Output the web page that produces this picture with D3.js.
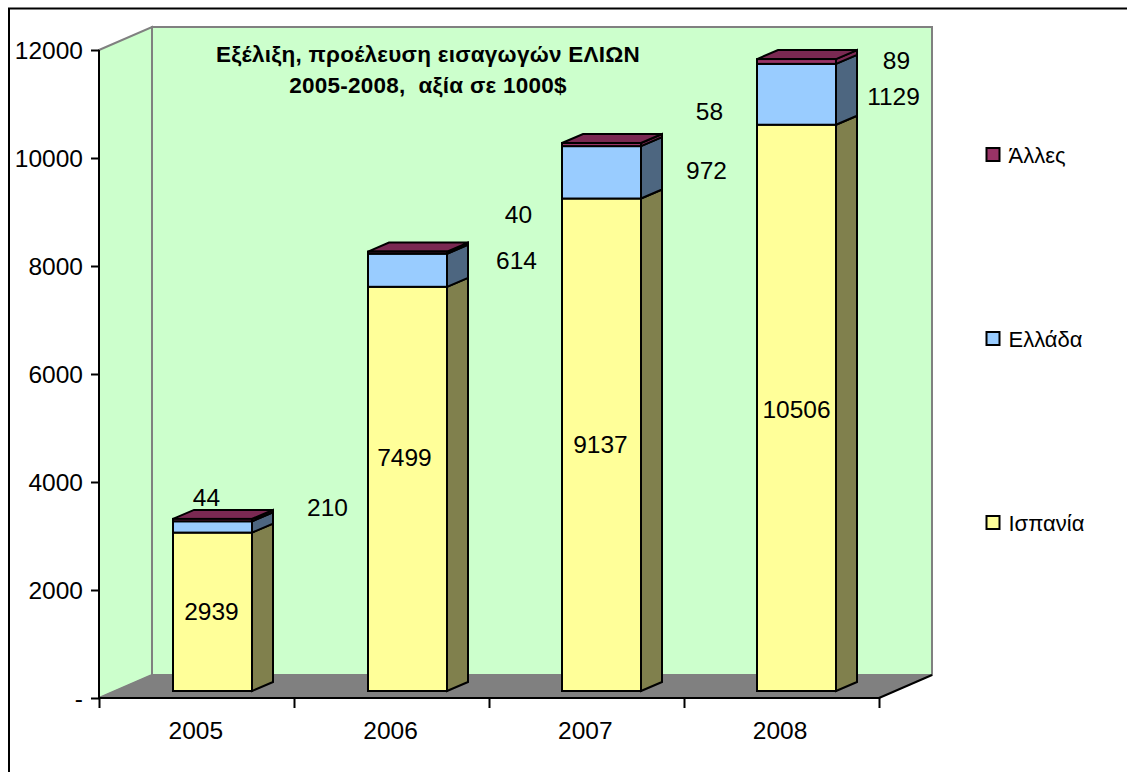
<!DOCTYPE html>
<html>
<head>
<meta charset="utf-8">
<script src="https://cdn.jsdelivr.net/npm/d3@7"></script>
<style>
    html, body { margin: 0; padding: 0; background: #fff; overflow: hidden; }
    svg { position: absolute; left: 0; top: 0; }
    text { font-family: "Liberation Sans", Arial, sans-serif; fill: #000; }
</style>
</head>
<body>
<div id="chart"></div>
<script>
// data
const years = ['2005', '2006', '2007', '2008']
const spain = [2939, 7499, 9137, 10506]
const greece = [210, 614, 972, 1129]
const others = [44, 40, 58, 89]
const yTicks = [0, 2000, 4000, 6000, 8000, 10000, 12000]
const seriesNames = ['Ισπανία', 'Ελλάδα', 'Άλλες']
const titleLines = ['Εξέλιξη, προέλευση εισαγωγών ΕΛΙΩΝ', '2005-2008,  αξία σε 1000$']

const width = 1127, height = 772
const fontSize = 24.5

// plot box, front plane
const x0 = 99, x1 = 879, yBase = 698, yTop = 50
// wall depth and bar depth
const wallDx = 53, wallDy = -23
const barDx = 21, barDy = -9
const barShiftX = 16, barBase = 691

const colors = {
    front: ['#ffff99', '#99ccff', '#993366'],
    side: ['#80804d', '#4d6680', '#7a2952']
}

const rows = years.map((y, i) => ({ year: y, s0: spain[i], s1: greece[i], s2: others[i] }))
const stacked = d3.stack().keys(['s0', 's1', 's2'])(rows)

const x = d3.scaleBand().domain(years).range([x0, 878])
const xEdges = d3.scaleLinear().domain([0, years.length]).range([x0, x1])
const y = d3.scaleLinear().domain([0, 12000]).range([yBase, yTop])
// bars stand a little deeper in the box, so their scale is slightly shorter
const yBar = d3.scaleLinear().domain([0, 12000]).range([barBase, 44.2])

const svg = d3.select('#chart').append('svg')
    .attr('width', width)
    .attr('height', height)

// outer frame, open on the right and at the bottom
svg.append('path')
    .attr('d', `M9,${height}V8.5H${width}`)
    .attr('fill', 'none')
    .attr('stroke', '#000')
    .attr('stroke-width', 2)

const poly = pts => 'M' + pts.map(p => p.join(',')).join('L') + 'Z'

// walls and floor
const walls = svg.append('g')
walls.append('path')
    .attr('d', poly([[x0, y(12000)], [x0 + wallDx, y(12000) + wallDy], [x0 + wallDx, y(0) + wallDy], [x0, y(0)]]))
    .attr('fill', '#ccffcc').attr('stroke', '#808080').attr('stroke-width', 2)
walls.append('path')
    .attr('d', poly([[x0 + wallDx, y(12000) + wallDy], [x1 + wallDx, y(12000) + wallDy], [x1 + wallDx, y(0) + wallDy], [x0 + wallDx, y(0) + wallDy]]))
    .attr('fill', '#ccffcc').attr('stroke', '#808080').attr('stroke-width', 2)
walls.append('path')
    .attr('d', poly([[x0, y(0)], [x0 + wallDx, y(0) + wallDy], [x1 + wallDx, y(0) + wallDy], [x1, y(0)]]))
    .attr('fill', '#808080').attr('stroke', '#808080').attr('stroke-width', 1)
walls.append('line')
    .attr('x1', x1).attr('y1', y(0))
    .attr('x2', x1 + wallDx).attr('y2', y(0) + wallDy)
    .attr('stroke', '#000').attr('stroke-width', 2)

// bars
const barW = 79
const barLeft = d => Math.round(x(d.data.year) + x.bandwidth() / 2 - barW / 2 + barShiftX)

stacked.forEach((layer, li) => {
    const g = svg.append('g').attr('class', 'layer-' + li)
    layer.forEach(d => {
        const l = barLeft(d), r = l + barW
        const yLo = yBar(d[0]), yHi = yBar(d[1])
        g.append('path')
            .attr('d', poly([[r, yLo], [r + barDx, yLo + barDy], [r + barDx, yHi + barDy], [r, yHi]]))
            .attr('fill', colors.side[li]).attr('stroke', '#000').attr('stroke-width', 2)
        if (li === stacked.length - 1) {
            g.append('path')
                .attr('d', poly([[l, yHi], [l + barDx, yHi + barDy], [r + barDx, yHi + barDy], [r, yHi]]))
                .attr('fill', colors.side[li]).attr('stroke', '#000').attr('stroke-width', 2)
        }
        g.append('rect')
            .attr('x', l).attr('y', yHi)
            .attr('width', barW).attr('height', yLo - yHi)
            .attr('fill', colors.front[li]).attr('stroke', '#000').attr('stroke-width', 2)
    })
})

// y axis
const yAxis = svg.append('g')
    .attr('transform', `translate(${x0},0)`)
    .call(d3.axisLeft(y).tickValues(yTicks).tickSize(8).tickPadding(8)
        .tickFormat(d => d === 0 ? '-' : String(d)))
yAxis.selectAll('path, line').attr('stroke', '#000').attr('stroke-width', 2)
yAxis.select('.domain').attr('d', `M0,${y(12000)}V${y(0)}`)
yAxis.selectAll('text')
    .attr('dy', '0.36em')
    .style('font-size', fontSize + 'px')
    .style('font-family', null)

// x axis: ticks sit on the category edges, labels in the middle of each band
const xAxis = svg.append('g')
    .attr('transform', `translate(0,${yBase})`)
    .call(d3.axisBottom(xEdges).tickValues(d3.range(years.length + 1)).tickSize(10).tickFormat(''))
xAxis.selectAll('path, line').attr('stroke', '#000').attr('stroke-width', 2)
xAxis.select('.domain').attr('d', `M${x0},0H${x1}`)

svg.append('g').selectAll('text')
    .data(years)
    .join('text')
    .attr('x', d => x(d) + x.bandwidth() / 2 - 0.5)
    .attr('y', 739)
    .attr('text-anchor', 'middle')
    .style('font-size', fontSize + 'px')
    .text(d => d)

// value labels were dragged by hand in the original, so each one has its own nudge from the bar
const labelNudge = [
    [[-1, 0], [115, -19], [-6, -22]],
    [[-3, -31], [109, -9], [111, -38]],
    [[-1, 0], [105, -1], [108, -33]],
    [[0, 2], [97, 3], [100, 0]]
]
const labels = svg.append('g')
stacked.forEach((layer, li) => {
    layer.forEach((d, i) => {
        const [dx, dy] = labelNudge[i][li]
        labels.append('text')
            .attr('x', barLeft(d) + barW / 2 + dx)
            .attr('y', yBar((d[0] + d[1]) / 2) + dy + 8)
            .attr('text-anchor', 'middle')
            .style('font-size', fontSize + 'px')
            .text(d[1] - d[0])
    })
})

// title
svg.append('g').selectAll('text')
    .data(titleLines)
    .join('text')
    .attr('x', 428)
    .attr('y', (d, i) => 62 + i * 31)
    .attr('text-anchor', 'middle')
    .attr('font-weight', 'bold')
    .style('font-size', '22.5px')
    .style('letter-spacing', '0.25px')
    .style('white-space', 'pre')
    .text(d => d)

// legend
const legendY = d3.scalePoint().domain(seriesNames).range([522.5, 154.5])
const legend = svg.append('g').selectAll('g')
    .data(seriesNames)
    .join('g')
    .attr('transform', d => `translate(986.5,${legendY(d)})`)
legend.append('rect')
    .attr('x', 0).attr('y', -6.5)
    .attr('width', 13).attr('height', 13)
    .attr('fill', (d, i) => colors.front[i])
    .attr('stroke', '#000').attr('stroke-width', 2)
legend.append('text')
    .attr('x', 22).attr('y', 8.5)
    .style('font-size', '22px')
    .text(d => d)
</script>
</body>
</html>
